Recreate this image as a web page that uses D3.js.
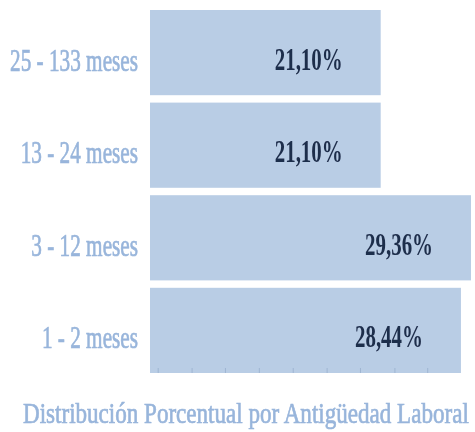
<!DOCTYPE html>
<html>
<head>
<meta charset="utf-8">
<script src="https://cdn.jsdelivr.net/npm/d3@7"></script>
<style>
html,body{margin:0;padding:0;background:#fff;}
svg{display:block;}
</style>
</head>
<body>
<svg id="chart" width="475" height="432"></svg>
<script>
const categories = ["25 - 133 meses", "13 - 24 meses", "3 - 12 meses", "1 - 2 meses"];
const values = [21.10, 21.10, 29.36, 28.44];
const valueLabels = ["21,10%", "21,10%", "29,36%", "28,44%"];
const tickValues = [0.75, 3.85, 6.9, 10, 13.1, 16.2, 19.25, 22.4, 25.4];
const title = "Distribución Porcentual por Antigüedad Laboral";

const svg = d3.select("#chart");
const defs = svg.append("defs");
defs.append("filter").attr("id","soft").attr("x","-5%").attr("y","-5%").attr("width","110%").attr("height","110%")
  .append("feGaussianBlur").attr("stdDeviation",0.7);

const x = d3.scaleLinear().domain([0, 30]).range([150, 478]);
const y = d3.scaleBand().domain(categories).range([6.3, 376.7]).paddingInner(0.08).paddingOuter(0.04);

const g = svg.append("g").attr("filter","url(#soft)");

const data = categories.map((c,i)=>({c, v: values[i], l: valueLabels[i]}));

g.selectAll("rect.bar").data(data).join("rect")
  .attr("class","bar")
  .attr("x", x(0))
  .attr("y", d => y(d.c))
  .attr("width", d => x(d.v) - x(0))
  .attr("height", y.bandwidth())
  .attr("fill", "#b9cde5");

const axisY = y(categories[categories.length-1]) + y.bandwidth();
g.selectAll("line.tick").data(tickValues).join("line")
  .attr("class","tick")
  .attr("x1", d => x(d)).attr("x2", d => x(d))
  .attr("y1", axisY - 5).attr("y2", axisY)
  .attr("stroke", "#9fb5d2").attr("stroke-width", 1);

const font = "'Liberation Serif', 'Times New Roman', serif";

// category labels (condensed, medium weight)
const cats = g.selectAll("text.cat").data(data).join("text")
  .attr("class","cat")
  .attr("text-anchor","end")
  .attr("font-family", font)
  .attr("font-size", 31)
  .attr("fill", "#98b5db")
  .attr("stroke", "#98b5db")
  .attr("stroke-width", 0.7)
  .text(d => d.c);
const sxLabel = 128 / cats.nodes()[0].getComputedTextLength();
cats.attr("transform", d => `translate(138,${y(d.c) + y.bandwidth()/2 + 18}) scale(${sxLabel},1)`);

// value labels
const vals = g.selectAll("text.val").data(data).join("text")
  .attr("class","val")
  .attr("text-anchor","end")
  .attr("font-family", font)
  .attr("font-weight","bold")
  .attr("font-size", 31)
  .attr("fill", "#1f2d4b")
  .text(d => d.l);
const sxVal = 68 / vals.nodes()[0].getComputedTextLength();
vals.attr("transform", d => `translate(${x(d.v) - 38},${y(d.c) + y.bandwidth()/2 + 17}) scale(${sxVal},1)`);

// title
const t = g.append("text")
  .attr("font-family", font)
  .attr("font-size", 30)
  .attr("fill", "#98b5db")
  .attr("stroke", "#98b5db")
  .attr("stroke-width", 0.7)
  .text(title);
const sxT = 446 / t.node().getComputedTextLength();
t.attr("transform", `translate(23,423) scale(${sxT},1)`);
</script>
</body>
</html>
